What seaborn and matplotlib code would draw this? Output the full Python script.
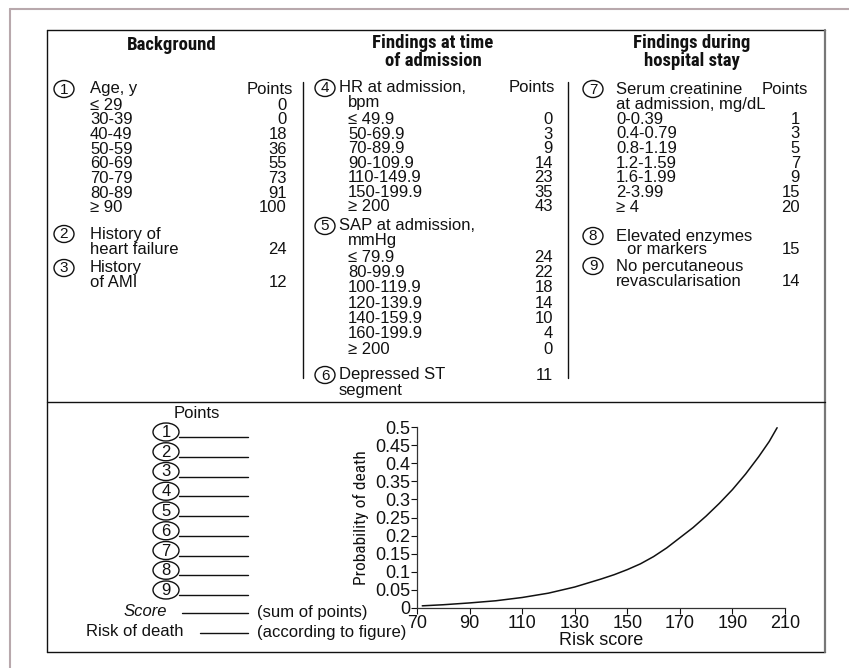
import numpy as np
import pandas as pd
import seaborn as sns
import matplotlib
matplotlib.use("Agg")
import matplotlib.pyplot as plt
import matplotlib.font_manager as fm
from matplotlib.font_manager import FontProperties
from matplotlib.patches import Ellipse
from matplotlib.lines import Line2D

# table content
age_labels = ["≤ 29", "30-39", "40-49", "50-59", "60-69", "70-79", "80-89", "≥ 90"]
age_points = [0, 0, 18, 36, 55, 73, 91, 100]
hr_labels = ["≤ 49.9", "50-69.9", "70-89.9", "90-109.9", "110-149.9", "150-199.9", "≥ 200"]
hr_points = [0, 3, 9, 14, 23, 35, 43]
sap_labels = ["≤ 79.9", "80-99.9", "100-119.9", "120-139.9", "140-159.9", "160-199.9", "≥ 200"]
sap_points = [24, 22, 18, 14, 10, 4, 0]
creat_labels = ["0-0.39", "0.4-0.79", "0.8-1.19", "1.2-1.59", "1.6-1.99", "2-3.99", "≥ 4"]
creat_points = [1, 3, 5, 7, 9, 15, 20]
heart_failure_points = 24
ami_points = 12
st_points = 11
enzymes_points = 15
no_pci_points = 14

# risk curve
risk_score = [72, 80, 90, 100, 110, 120, 130, 140, 145, 150, 155, 160, 165, 170,
              175, 180, 185, 190, 195, 200, 204, 207]
prob_death = [0.006, 0.009, 0.014, 0.020, 0.029, 0.041, 0.058, 0.080, 0.092, 0.106,
              0.122, 0.142, 0.166, 0.194, 0.222, 0.254, 0.289, 0.327, 0.370, 0.418,
              0.460, 0.498]
x_ticks = [70, 90, 110, 130, 150, 170, 190, 210]
y_ticks = [0, 0.05, 0.1, 0.15, 0.2, 0.25, 0.3, 0.35, 0.4, 0.45, 0.5]
y_tick_labels = ["0", "0.05", "0.1", "0.15", "0.2", "0.25", "0.3", "0.35", "0.4", "0.45", "0.5"]

W, H = 849, 668
INK = "#111111"

sns.set_theme(style="ticks")
plt.rcParams["font.family"] = ["Liberation Sans", "DejaVu Sans"]


def narrow_font(weight="normal"):
    # look for a condensed sans face; fall back to the regular one
    names = {f.name for f in fm.fontManager.ttflist}
    for n in ["Liberation Sans Narrow", "Roboto Condensed", "Open Sans Condensed",
              "DejaVu Sans Condensed", "Noto Sans Condensed"]:
        if n in names:
            return FontProperties(family=n, weight=weight), True
    for f in fm.fontManager.ttflist:
        if "condensed" in str(f.stretch) and f.name in ("Noto Sans", "DejaVu Sans", "Roboto",
                                                         "Open Sans", "Liberation Sans"):
            return FontProperties(family=f.name, stretch="condensed", weight=weight), True
    return FontProperties(family="Liberation Sans", weight=weight), False


hdr_font, hdr_narrow = narrow_font("bold")
lab_font, lab_narrow = narrow_font("normal")

fig = plt.figure(figsize=(W / 100, H / 100), dpi=100)
fig.patch.set_facecolor("white")


def fx(x):
    return x / W


def fy(y):
    return 1 - y / H


def txt(x, y, s, ha="left", size=12, **kw):
    fig.text(fx(x), fy(y), s, ha=ha, va="center", fontsize=size, color=INK, **kw)


def circ(x, y, n, w=20, h=17, size=11):
    fig.patches.append(Ellipse((fx(x), fy(y)), w / W, h / H, transform=fig.transFigure,
                               fill=False, edgecolor=INK, lw=1.0))
    txt(x, y + 0.5, str(n), ha="center", size=size)


def hline(x0, x1, y, color=INK, lw=1.0):
    fig.lines.append(Line2D([fx(x0), fx(x1)], [fy(y), fy(y)], transform=fig.transFigure,
                            color=color, lw=lw))


def vline(x, y0, y1, color=INK, lw=1.0):
    fig.lines.append(Line2D([fx(x), fx(x)], [fy(y0), fy(y1)], transform=fig.transFigure,
                            color=color, lw=lw))


# outer frame and box
vline(10, 9, 668, color="#b8a8ac", lw=1.5)
hline(10, 849, 9, color="#b8a8ac", lw=1.5)
hline(47, 825, 30)
hline(47, 825, 652)
vline(47, 30, 652)
vline(825, 30, 652, color="#777777", lw=1.6)
hline(47, 825, 402)
vline(303, 82, 378)
vline(568, 82, 378)

# headers
hsize = 13.5 if hdr_narrow else 11.5
fig.text(fx(172), fy(45), "Background", ha="center", va="center", fontsize=hsize,
         fontproperties=hdr_font, color=INK)
fig.text(fx(433), fy(52), "Findings at time\nof admission", ha="center", va="center",
         fontproperties=hdr_font, fontsize=hsize, color=INK, linespacing=0.95)
fig.text(fx(692), fy(52), "Findings during\nhospital stay", ha="center", va="center",
         fontproperties=hdr_font, fontsize=hsize, color=INK, linespacing=0.95)

# column 1
step = 14.7
circ(64, 89, 1)
txt(90, 89, "Age, y")
txt(293, 89, "Points", ha="right")
for i, (lab, pts) in enumerate(zip(age_labels, age_points)):
    y = 105 + i * step
    txt(90, y, lab)
    txt(287, y, str(pts), ha="right")
circ(64, 234, 2)
txt(90, 234, "History of")
txt(90, 249, "heart failure")
txt(287, 249, str(heart_failure_points), ha="right")
circ(64, 268, 3)
txt(90, 268, "History")
txt(90, 283, "of AMI")
txt(287, 283, str(ami_points), ha="right")

# column 2
circ(325, 88, 4)
txt(339, 88, "HR at admission,")
txt(555, 88, "Points", ha="right")
txt(348, 103, "bpm")
for i, (lab, pts) in enumerate(zip(hr_labels, hr_points)):
    y = 120 + i * 14.45
    txt(348, y, lab)
    txt(553, y, str(pts), ha="right")
circ(325, 226, 5)
txt(339, 226, "SAP at admission,")
txt(348, 241, "mmHg")
for i, (lab, pts) in enumerate(zip(sap_labels, sap_points)):
    y = 257 + i * 15.4
    txt(348, y, lab)
    txt(553, y, str(pts), ha="right")
circ(325, 375, 6)
txt(339, 375, "Depressed ST")
txt(339, 390, "segment")
txt(553, 375, str(st_points), ha="right")

# column 3
circ(593, 89, 7)
txt(616, 89, "Serum creatinine")
txt(808, 89, "Points", ha="right")
txt(616, 104, "at admission, mg/dL")
for i, (lab, pts) in enumerate(zip(creat_labels, creat_points)):
    y = 119 + i * step
    txt(616, y, lab)
    txt(800, y, str(pts), ha="right")
circ(593, 236, 8)
txt(616, 236, "Elevated enzymes")
txt(627, 250, "or markers")
txt(800, 250, str(enzymes_points), ha="right")
circ(593, 266, 9)
txt(616, 266, "No percutaneous")
txt(616, 281, "revascularisation")
txt(800, 281, str(no_pci_points), ha="right")

# bottom-left worksheet
txt(197, 413, "Points", ha="center")
for i in range(9):
    y = 432 + i * 19.75
    circ(166, y, i + 1, w=26, h=18, size=12)
    hline(179, 248, y + 5)
txt(167, 612, "Score", ha="right", style="italic")
hline(182, 248, 613)
txt(257, 612, "(sum of points)")
txt(184, 632, "Risk of death", ha="right")
hline(200, 248, 633)
txt(257, 632, "(according to figure)")

# risk curve
ax = fig.add_axes([fx(417), fy(608), (785 - 417) / W, (608 - 427) / H])
ax.set_facecolor("none")
curve = pd.DataFrame({"score": risk_score, "prob": prob_death})
sns.lineplot(data=curve, x="score", y="prob", ax=ax, color=INK, lw=1.1)
ax.set_xlim(70, 210)
ax.set_ylim(0, 0.5)
ax.set_xticks(x_ticks)
ax.set_yticks(y_ticks)
ax.set_yticklabels(y_tick_labels)
ax.tick_params(labelsize=13, length=4, width=0.8, pad=1, colors=INK)
ax.set_xlabel("Risk score", fontsize=13, labelpad=0, color=INK)
ax.set_ylabel("Probability of death", fontproperties=lab_font,
              fontsize=12.5 if lab_narrow else 10, labelpad=4, color=INK)
for s in ("top", "right"):
    ax.spines[s].set_visible(False)
for s in ("left", "bottom"):
    ax.spines[s].set_color("#333333")
    ax.spines[s].set_linewidth(0.9)

fig.savefig("out.png", dpi=100, facecolor="white")
